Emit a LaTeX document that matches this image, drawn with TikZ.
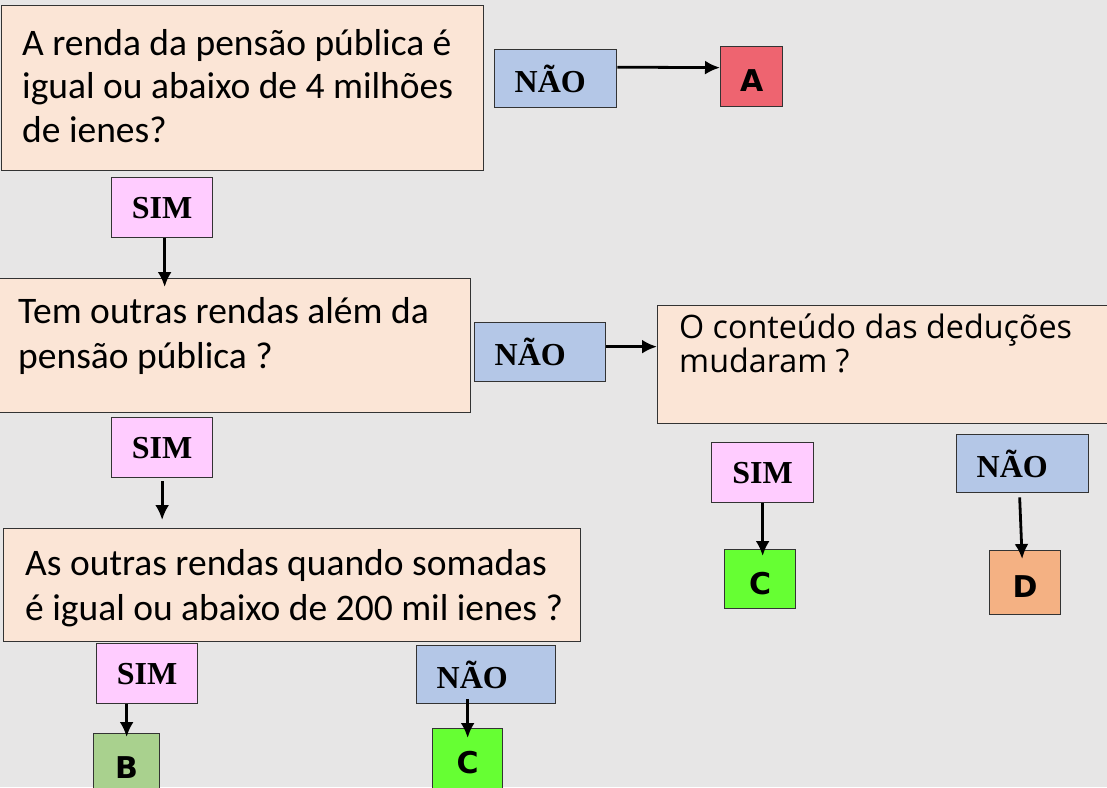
\documentclass[tikz,border=0pt]{standalone}
\usepackage{fontspec}
\setmainfont{Carlito}
\newfontfamily\timesfont{Liberation Serif}
\newfontfamily\letrafont{DejaVu Sans}
\newfontfamily\opensfont{Open Sans}
\usetikzlibrary{arrows.meta,positioning}
\definecolor{fundo}{HTML}{E7E6E6}
\definecolor{pergunta}{HTML}{FBE5D6}
\definecolor{simcor}{HTML}{FFCCFF}
\definecolor{naocor}{HTML}{B4C7E7}
\definecolor{corA}{HTML}{EE6470}
\definecolor{corB}{HTML}{A9D18E}
\definecolor{corC}{HTML}{66FF33}
\definecolor{corD}{HTML}{F4B183}

\begin{document}
\begin{tikzpicture}[x=1pt,y=-1pt,
  box/.style={draw=black!80,line width=1.3pt,anchor=north west,inner sep=0pt},
  qbox/.style={box,fill=pergunta},
  qtext/.style={anchor=base west,inner sep=0pt,align=left,font=\fontsize{37.5}{45}\selectfont},
  sim/.style={box,fill=simcor,minimum width=101pt,minimum height=60pt,font=\timesfont\bfseries\fontsize{32}{32}\selectfont},
  nao/.style={box,fill=naocor,minimum height=58pt,inner xsep=20pt,align=left,font=\timesfont\bfseries\fontsize{32}{32}\selectfont},
  letra/.style={box,text height=30pt,text depth=0pt,font=\letrafont\bfseries\fontsize{30}{30}\selectfont},
  seta/.style={line width=2.8pt,-{Latex[length=15pt,width=14pt]}}]

\fill[fundo] (0,0) rectangle (1107,787);
\useasboundingbox (0,0) rectangle (1107,787);

\node (q1) [qbox,minimum width=482pt,minimum height=165pt] at (1,5) {};
\node (q1t) [qtext,font=\fontsize{37.5}{43.5}\selectfont] at ([shift={(21,137)}]q1.north west) {A renda da pensão pública é\\igual ou abaixo de 4 milhões\\de ienes?};
\node (no1) [nao,text width=82pt] at (494,49) {NÃO};
\node (a) [letra,fill=corA,minimum width=62pt,minimum height=60pt] at (720,46) {A};
\node (si1) [sim] at (111,177) {SIM};

\node (q2) [qbox,minimum width=472pt,minimum height=134pt] at (-2,278) {};
\node (q2t) [qtext] at ([shift={(20,90)}]q2.north west) {Tem outras rendas além da\\pensão pública ?};
\node (no2) [nao,text width=91pt,minimum height=59pt] at (474,322) {NÃO};
\node (si2) [sim] at (111,417) {SIM};

\node (q3) [qbox,minimum width=462pt,minimum height=118pt] at (657,305) {};
\node (q3t) [qtext,font=\opensfont\fontsize{32.3}{31}\selectfont] at ([shift={(22,67)}]q3.north west) {O conteúdo das deduções\\mudaram ?};
\node (si4) [sim,minimum width=102pt] at (711,442) {SIM};
\node (no4) [nao,text width=92pt] at (956,434) {NÃO};
\node (c2) [letra,fill=corC,minimum width=71pt,minimum height=59pt] at (724,549) {C};
\node (d) [letra,fill=corD,minimum width=71pt,minimum height=64pt] at (989,550) {D};

\node (q4) [qbox,minimum width=577pt,minimum height=113pt] at (3,528) {};
\node (q4t) [qtext] at ([shift={(22,92)}]q4.north west) {As outras rendas quando somadas\\é igual ou abaixo de 200 mil ienes ?};
\node (si3) [sim] at (96,643) {SIM};
\node (no3) [nao,text width=99pt] at (416,645) {NÃO};
\node (b) [letra,fill=corB,minimum width=66pt,minimum height=60pt] at (93,733) {B};
\node (c1) [letra,fill=corC,minimum width=70pt,minimum height=60pt] at (432,728) {C};

\draw[seta] ([yshift=11.5pt]no1.east) -- ([yshift=9pt]a.west);
\draw[seta] ([xshift=2.5pt]si1.south) -- ([xshift=2.5pt,yshift=-9pt]si1.south |- q2.north);
\draw[seta] ([yshift=5.5pt]no2.east) -- ([yshift=18pt]q3.west);
\draw[seta,shorten <=3pt,shorten >=8pt] (si2.south) -- (si2.south |- q4.north);
\draw[seta] (b.north |- si3.south) -- ([yshift=-4pt]b.north);
\draw[seta] ([yshift=5pt]c1.north |- no3.south) -- ([yshift=-10pt]c1.north);
\draw[seta] (si4.south) -- ([yshift=-7pt]si4.south |- c2.north);
\draw[seta] ([xshift=-3pt,yshift=-4pt]no4.south) -- ([xshift=-3pt,yshift=-9pt]d.north);
\end{tikzpicture}
\end{document}
